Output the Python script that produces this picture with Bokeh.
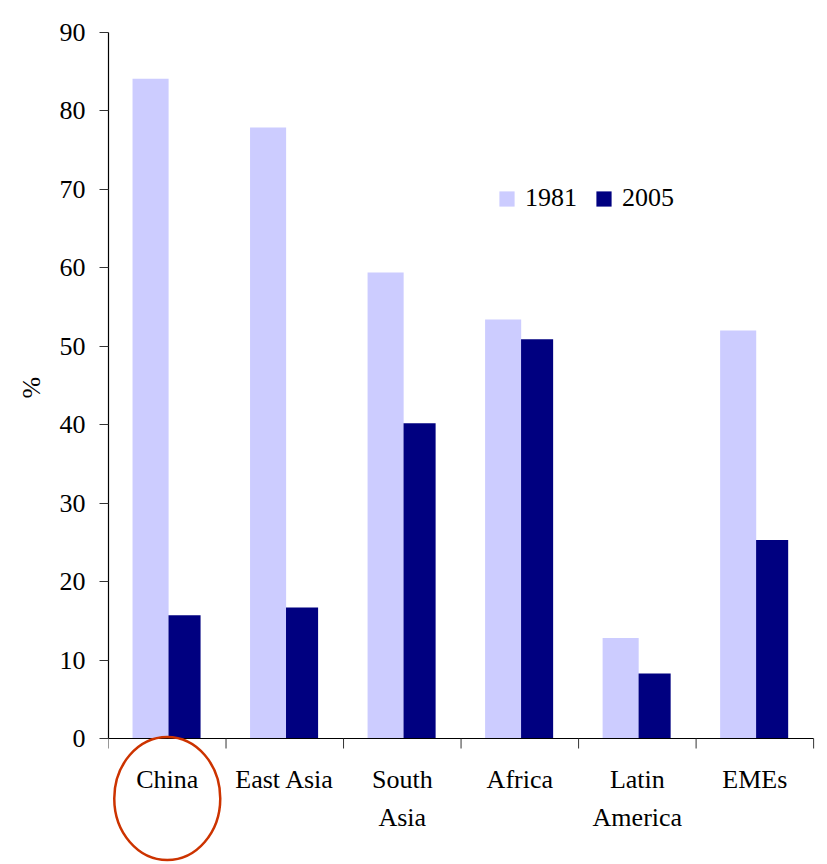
from bokeh.plotting import figure
from bokeh.models import (ColumnDataSource, FixedTicker, Legend, LegendItem, Range1d, Title)
from bokeh.core.properties import value
from bokeh.embed import file_html
from bokeh.resources import INLINE

# Poverty headcount by region, percent of population
regions = ["China", "East Asia", "South\nAsia", "Africa", "Latin\nAmerica", "EMEs"]
share_1981 = [84.1, 77.9, 59.4, 53.4, 12.8, 52.0]
share_2005 = [15.7, 16.7, 40.2, 50.9, 8.3, 25.3]
y_ticks = [0, 10, 20, 30, 40, 50, 60, 70, 80, 90]

FONT = "Liberation Serif"
LIGHT = "#CCCCFF"
DARK = "#000080"

# layout in pixels: the frame reaches the bottom of the page so that the
# category labels and the highlight ring can be drawn inside it
W, H = 827, 864
LEFT, TOP = 108, 32
BASE_PX = 738                      # pixel row of the zero line
PX_PER_UNIT = (BASE_PX - TOP) / 90.0
y_lo = -(H - BASE_PX) / PX_PER_UNIT
n = len(regions)
X_END = n + 0.05
PX_PER_CAT = 117.45
RIGHT = W - LEFT - X_END * PX_PER_CAT

centers = [i + 0.5 for i in range(n)]
src = ColumnDataSource(dict(
    x81=[c - 0.142 for c in centers],
    x05=[c + 0.147 for c in centers],
    y81=share_1981,
    y05=share_2005,
))

p = figure(width=W, height=H, output_backend="svg", toolbar_location=None,
           x_range=Range1d(0, X_END), y_range=Range1d(y_lo, 90),
           min_border_left=LEFT, min_border_right=int(round(RIGHT)),
           min_border_top=TOP, min_border_bottom=0)
p.outline_line_color = None
p.grid.visible = False
p.xaxis.visible = False
p.background_fill_color = "white"
p.border_fill_color = "white"

r81 = p.vbar(x="x81", top="y81", width=0.307, bottom=0, source=src,
             fill_color=LIGHT, line_color=None)
r05 = p.vbar(x="x05", top="y05", width=0.273, bottom=0, source=src,
             fill_color=DARK, line_color=None)

# y axis, limited to the 0-90 span
yax = p.yaxis[0]
yax.bounds = (0, 90)
yax.ticker = FixedTicker(ticks=y_ticks, minor_ticks=[])
yax.axis_line_color = "black"
yax.axis_line_width = 1.2
yax.major_tick_line_color = "#333333"
yax.major_tick_out = 9
yax.major_tick_in = 0
yax.minor_tick_line_color = None
yax.major_label_standoff = 14
yax.major_label_text_font = FONT
yax.major_label_text_font_size = "26px"
yax.major_label_text_color = "black"

# unit label, centred on the 0-90 span of the axis
unit_label = Title(text="%", align="left", vertical_align="middle",
                   offset=466, standoff=20,
                   text_font=FONT, text_font_size="26px",
                   text_font_style="normal", text_color="black")
p.add_layout(unit_label, "left")

# category baseline with tick marks at the group boundaries
bounds = list(range(n + 1))
tick_len = 10 / PX_PER_UNIT
p.segment(x0=[0], y0=[0], x1=[n], y1=[0], line_color="black", line_width=1.2)
p.segment(x0=bounds, y0=[0] * len(bounds), x1=bounds, y1=[-tick_len] * len(bounds),
          line_color="#333333", line_width=1)

# category labels under each group
p.text(x=centers, y=[0] * n, text=regions, y_offset=26,
       text_align="center", text_baseline="top",
       text_font=value(FONT), text_font_size="26px", text_color="black",
       text_line_height=1.32)

legend = Legend(items=[LegendItem(label="1981", renderers=[r81]),
                       LegendItem(label="2005", renderers=[r05])],
                orientation="horizontal",
                location=(389, (BASE_PX - 213) + (H - BASE_PX)),
                glyph_width=19, glyph_height=19, label_standoff=9, spacing=17,
                padding=0, margin=0, border_line_color=None,
                background_fill_alpha=0, label_text_font=FONT,
                label_text_font_size="26px", label_text_color="black")
p.add_layout(legend, "center")

# highlight ring around the China label
china = centers[regions.index("China")]
ring_cy = -(798 - BASE_PX) / PX_PER_UNIT
p.ellipse(x=[china], y=[ring_cy], width=106, height=123,
          width_units="screen", height_units="screen",
          fill_color=None, line_color="#CC3300", line_width=2.5)

open("out.html", "w").write(file_html(p, INLINE))
